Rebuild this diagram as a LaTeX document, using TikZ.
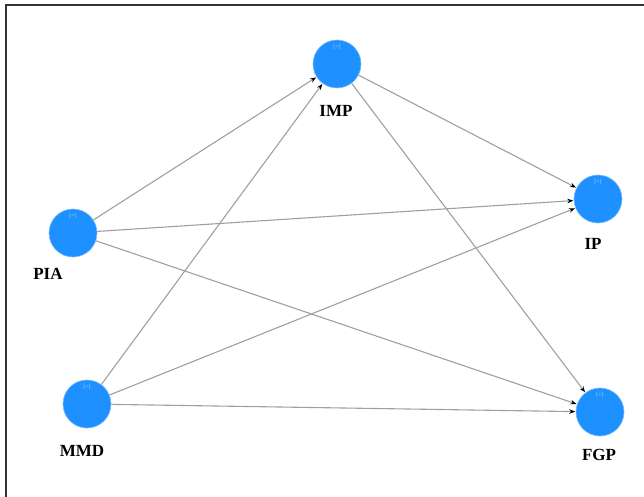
\documentclass[tikz,border=0pt]{standalone}
\usepackage{fontspec}
\setmainfont{Liberation Serif}
\usetikzlibrary{arrows.meta}
\definecolor{nodeblue}{RGB}{30,144,255}
\definecolor{edgegray}{RGB}{160,160,160}
\definecolor{plusblue}{RGB}{170,210,255}
\tikzset{
  lv/.style={circle,fill=nodeblue,draw=nodeblue!60!white,line width=0.6pt,minimum size=48pt,inner sep=0pt},
  lbl/.style={font=\bfseries\fontsize{17}{17}\selectfont,text=black,inner sep=0pt},
  plus/.style={font=\fontsize{6}{6}\selectfont,text=plusblue,inner sep=0pt},
  edge/.style={draw=edgegray,line width=1.1pt,-{Stealth[length=6pt,width=4.5pt,color=black]},shorten >=0.5pt},
  frame/.style={draw=black!80,line width=2pt}
}
\begin{document}
\begin{tikzpicture}[x=1pt,y=-1pt]
\useasboundingbox (0,0) rectangle (644,497);
\fill[white] (0,0) rectangle (644,497);
\coordinate (ftr) at (644,5);
\coordinate (ftl) at (6,5);
\coordinate (fbl) at (6,497);
\draw[frame] (ftr) -- (ftl) -- (fbl);

\node[lv] (imp) at (337,64) {};
\node[lv] (pia) at (73,233) {};
\node[lv] (ip)  at (598,199) {};
\node[lv] (fgp) at (600,412) {};
\node[lv] (mmd) at (87,404) {};

\node[plus] (impp) at (337,47) {[+]};
\node[plus] (piap) at (73,216) {[+]};
\node[plus] (ipp)  at (598,182) {[+]};
\node[plus] (fgpp) at (600,395) {[+]};
\node[plus] (mmdp) at (87,387) {[+]};

\node[lbl] (impl) at (336,111) {IMP};
\node[lbl] (pial) at (48,274) {PIA};
\node[lbl] (ipl)  at (593,244) {IP};
\node[lbl] (fgpl) at (599,455) {FGP};
\node[lbl] (mmdl) at (82,451) {MMD};

\draw[edge] (pia) -- (imp);
\draw[edge] (pia) -- (ip);
\draw[edge] (pia) -- (fgp);
\draw[edge] (mmd) -- (imp);
\draw[edge] (mmd) -- (ip);
\draw[edge] (mmd) -- (fgp);
\draw[edge] (imp) -- (ip);
\draw[edge] (imp) -- (fgp);
\end{tikzpicture}
\end{document}
